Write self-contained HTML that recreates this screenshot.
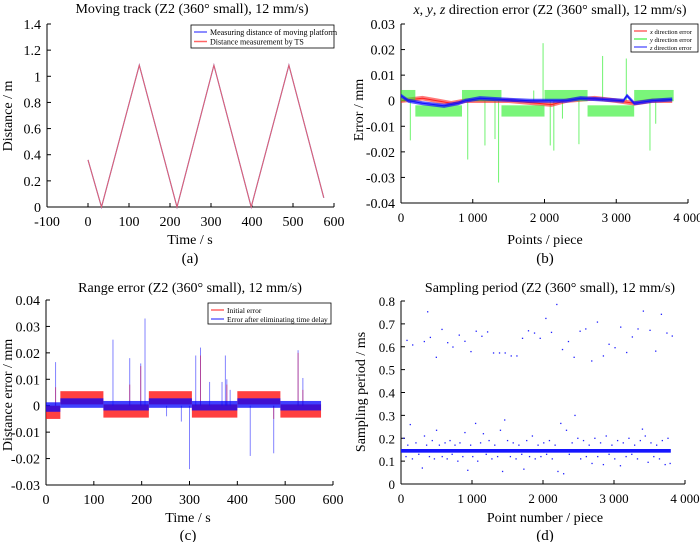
<!DOCTYPE html>
<html><head><meta charset="utf-8"><style>
html,body{margin:0;padding:0;background:#fff;}
svg{display:block;font-family:"Liberation Serif",serif;}
</style></head><body>
<svg id="fig" width="700" height="542" viewBox="0 0 700 542" xmlns="http://www.w3.org/2000/svg"></svg>
<script>
// ---------- Panel (a) data ----------
const aTimes = [0, 33, 125, 217, 307, 398, 490, 575];
const aPlatform = [0.36, 0, 1.085, 0, 1.085, 0, 1.085, 0.07];
const aTS = [0.36, 0, 1.085, 0, 1.085, 0, 1.085, 0.07];
const aXTicks = [-100, 0, 100, 200, 300, 400, 500, 600];
const aYTicks = [0, 0.2, 0.4, 0.6, 0.8, 1, 1.2, 1.4];

// ---------- Panel (b) data ----------
const bXTicks = [0, 1000, 2000, 3000, 4000];
const bXTickLabels = ["0", "1 000", "2 000", "3 000", "4 000"];
const bYTicks = [-0.04, -0.03, -0.02, -0.01, 0, 0.01, 0.02, 0.03];
const bGreenStart = [0, 200, 850, 1400, 2000, 2600, 3250];
const bGreenEnd = [200, 850, 1400, 2000, 2600, 3250, 3800];
const bGreenLevel = [0.002, -0.004, 0.002, -0.004, 0.002, -0.004, 0.002];
const bGreenHalf = 0.0022;
const bGreenSpikeX = [130, 930, 1170, 1310, 1360, 1850, 1980, 2080, 2130, 2250, 2480, 2810, 3140, 3470, 3550];
const bGreenSpikeY = [-0.0155, -0.023, -0.0175, -0.015, -0.032, 0.004, 0.0225, -0.0175, -0.0195, -0.007, -0.017, 0.0175, 0.0165, -0.0195, -0.009];
const bRedX = [0, 300, 500, 700, 900, 1500, 1900, 2100, 2300, 2700, 3000, 3250, 3500, 3780];
const bRedY = [0, 0.001, 0, -0.001, 0, 0, -0.001, -0.0015, 0, 0.001, 0, -0.001, 0, 0];
const bRedHalf = 0.0009;
const bBlueX = [0, 100, 300, 600, 800, 900, 1100, 1400, 1800, 2000, 2300, 2500, 2800, 3100, 3150, 3250, 3500, 3780];
const bBlueY = [0.002, 0, -0.001, -0.002, -0.001, 0, 0.001, 0.0005, 0, 0, 0, 0.001, 0.0005, 0, 0.002, -0.001, 0, 0.0005];
const bBlueHalf = 0.0008;

// ---------- Panel (c) data ----------
const cXTicks = [0, 100, 200, 300, 400, 500, 600];
const cYTicks = [-0.03, -0.02, -0.01, 0, 0.01, 0.02, 0.03, 0.04];
const cRedStart = [0, 30, 120, 215, 305, 400, 490];
const cRedEnd = [30, 120, 215, 305, 400, 490, 575];
const cRedLevel = [-0.0025, 0.003, -0.002, 0.003, -0.002, 0.003, -0.002];
const cRedHalf = 0.0025;
const cBlueStart = [0, 30, 120, 215, 305, 400, 490];
const cBlueEnd = [30, 120, 215, 305, 400, 490, 575];
const cBlueLevel = [-0.0005, 0.001, 0, 0.001, 0, 0.001, 0];
const cBlueHalf = 0.0018;
const cBlueSpikeX = [20, 140, 175, 198, 207, 252, 283, 300, 313, 323, 342, 368, 375, 378, 385, 427, 476, 527, 537];
const cBlueSpikeY = [0.0165, 0.025, 0.018, 0.016, 0.033, -0.004, -0.006, -0.024, 0.019, 0.022, 0.009, 0.009, 0.019, 0.01, 0.006, -0.019, -0.018, 0.021, 0.0105];
const cRedSpikeX = [20, 175, 198, 323, 378, 476, 527, 537];
const cRedSpikeY = [0.007, 0.008, 0.015, 0.019, 0.008, -0.005, 0.02, 0.006];

// ---------- Panel (d) data ----------
const dXTicks = [0, 1000, 2000, 3000, 4000];
const dXTickLabels = ["0", "1 000", "2 000", "3 000", "4 000"];
const dYTicks = [0, 0.1, 0.2, 0.3, 0.4, 0.5, 0.6, 0.7, 0.8];
const dCoreStart = 0, dCoreEnd = 3800, dCoreLevel = 0.145, dCoreHalf = 0.008;
const dHighX = [84, 164, 375, 328, 413, 497, 577, 657, 731, 820, 900, 985, 1059, 1139, 1219, 1303, 1387, 1467, 1552, 1632, 1711, 1795, 1880, 1960, 2040, 2119, 2194, 2274, 2358, 2438, 2522, 2602, 2686, 2766, 2850, 2930, 3014, 3094, 3178, 3258, 3338, 3413, 3507, 3587, 3667, 3745, 3820];
const dHighY = [0.628, 0.608, 0.753, 0.623, 0.641, 0.554, 0.676, 0.618, 0.599, 0.651, 0.624, 0.579, 0.668, 0.646, 0.665, 0.573, 0.573, 0.573, 0.56, 0.56, 0.637, 0.67, 0.66, 0.637, 0.724, 0.663, 0.785, 0.588, 0.623, 0.554, 0.668, 0.678, 0.538, 0.708, 0.56, 0.611, 0.596, 0.686, 0.575, 0.643, 0.678, 0.756, 0.672, 0.581, 0.742, 0.66, 0.647];
const dLowX = [40, 70, 95, 130, 160, 210, 250, 300, 330, 360, 400, 440, 470, 500, 540, 580, 620, 650, 690, 720, 760, 800, 830, 870, 900, 940, 980, 1010, 1050, 1080, 1120, 1160, 1200, 1240, 1280, 1320, 1360, 1400, 1430, 1460, 1500, 1540, 1580, 1620, 1660, 1700, 1730, 1770, 1810, 1850, 1890, 1930, 1970, 2010, 2050, 2090, 2130, 2170, 2210, 2250, 2290, 2330, 2370, 2410, 2450, 2490, 2530, 2570, 2610, 2650, 2690, 2730, 2770, 2810, 2850, 2890, 2930, 2970, 3010, 3050, 3090, 3130, 3170, 3210, 3250, 3290, 3330, 3370, 3400, 3440, 3480, 3520, 3560, 3600, 3640, 3680, 3720, 3760, 3790];
const dLowY = [0.2, 0.12, 0.17, 0.26, 0.11, 0.18, 0.13, 0.07, 0.21, 0.17, 0.12, 0.19, 0.11, 0.235, 0.17, 0.12, 0.18, 0.11, 0.19, 0.13, 0.17, 0.1, 0.18, 0.12, 0.225, 0.06, 0.17, 0.12, 0.265, 0.1, 0.18, 0.22, 0.13, 0.19, 0.11, 0.17, 0.12, 0.235, 0.055, 0.28, 0.19, 0.12, 0.18, 0.11, 0.17, 0.13, 0.065, 0.19, 0.12, 0.21, 0.11, 0.17, 0.12, 0.18, 0.13, 0.19, 0.11, 0.17, 0.055, 0.265, 0.045, 0.235, 0.13, 0.18, 0.3, 0.2, 0.11, 0.19, 0.12, 0.17, 0.09, 0.2, 0.12, 0.18, 0.085, 0.21, 0.13, 0.17, 0.11, 0.19, 0.08, 0.18, 0.12, 0.2, 0.13, 0.17, 0.11, 0.19, 0.24, 0.21, 0.095, 0.18, 0.12, 0.17, 0.11, 0.19, 0.085, 0.2, 0.09];

const NS = "http://www.w3.org/2000/svg";
const svg = document.getElementById("fig");
function mk(tag, attrs, parent) {
  const e = document.createElementNS(NS, tag);
  for (const k in attrs) e.setAttribute(k, attrs[k]);
  (parent || svg).appendChild(e);
  return e;
}
function txt(s, attrs, parent) { const t = mk("text", attrs, parent); t.textContent = s; return t; }
function lin(d0, d1, r0, r1) { return v => r0 + (v - d0) * (r1 - r0) / (d1 - d0); }

function axes(g, X, Y, xt, xl, yt, yl, L, R, T, B, fs, xfs) {
  const ax = mk("g", {}, g);
  
  
  mk("line", {x1: L, y1: B, x2: R, y2: B, stroke: "#000", "stroke-width": 1}, ax);
  mk("line", {x1: L, y1: B, x2: L, y2: T, stroke: "#000", "stroke-width": 1}, ax);
  xt.forEach((v, i) => {
    const x = X(v);
    mk("line", {x1: x, y1: B, x2: x, y2: B - 4, stroke: "#000"}, ax);
    const t = txt(xl[i], {x: x, y: B + 19, "text-anchor": "middle", "font-size": xfs || fs}, ax);
    
    
  });
  yt.forEach((v, i) => {
    const y = Y(v);
    mk("line", {x1: L, y1: y, x2: L + 4, y2: y, stroke: "#000"}, ax);
    const t = txt(yl[i], {x: L - 6, y: y + 5, "text-anchor": "end", "font-size": fs}, ax);
    
    
  });
}
function labels(g, title, titleX, titleY, xlab, xlx, xly, ylab, ylx, yly, cap, capY) {
  const t = txt("", {x: titleX, y: titleY, "text-anchor": "middle", "font-size": 14}, g);
  t.innerHTML = title;
  
  
  const xl = txt(xlab, {x: xlx, y: xly, "text-anchor": "middle", "font-size": 14}, g);
  
  
  const yl = txt(ylab, {x: 0, y: 0, "text-anchor": "middle", "font-size": 14, transform: `translate(${ylx},${yly}) rotate(-90)`}, g);
  
  
  const c = txt(cap, {x: xlx, y: capY, "text-anchor": "middle", "font-size": 15}, g);
  
  
}
function legend(g, x, y, w, h, items, fs) {
  const lg = mk("g", {}, g);
  
  
  mk("rect", {x: x, y: y, width: w, height: h, fill: "#fff", stroke: "#000", "stroke-width": 0.8}, lg);
  items.forEach((it, i) => {
    const yy = y + 7 + i * (fs + 1.5);
    const e = mk("g", {}, lg);
    
    
    mk("line", {x1: x + 3, y1: yy, x2: x + 16, y2: yy, stroke: it.c, "stroke-width": 1.5, opacity: 0.6}, e);
    const t = txt("", {x: x + 19, y: yy + 3, "font-size": fs}, e);
    t.innerHTML = it.t;
  });
}
function pts(xs, ys, X, Y) { return xs.map((v, i) => X(v).toFixed(1) + "," + Y(ys[i]).toFixed(1)).join(" "); }
function bandPoly(g, xs, ys, hw, X, Y, color, op, name) {
  const up = xs.map((v, i) => X(v).toFixed(1) + "," + Y(ys[i] + hw).toFixed(1));
  const dn = xs.map((v, i) => X(v).toFixed(1) + "," + Y(ys[i] - hw).toFixed(1)).reverse();
  const p = mk("polygon", {points: up.concat(dn).join(" "), fill: color, opacity: op}, g);
  
  
  const l = mk("polyline", {points: pts(xs, ys, X, Y), fill: "none", stroke: color, "stroke-width": 1}, g);
  
  
}
function segBands(g, s, e, lv, hw, X, Y, color, op, name) {
  s.forEach((v, i) => {
    const r = mk("rect", {x: X(v), y: Y(lv[i] + hw), width: X(e[i]) - X(v), height: Y(lv[i] - hw) - Y(lv[i] + hw), fill: color, opacity: op}, g);
    
    
  });
}
function spikes(g, xs, ys, base, X, Y, color, op, name) {
  xs.forEach((v, i) => {
    const l = mk("line", {x1: X(v), y1: Y(base), x2: X(v), y2: Y(ys[i]), stroke: color, "stroke-width": 1, opacity: op}, g);
    
    
  });
}

// ===== Panel (a) =====
(function () {
  const g = mk("g", {});
  
  
  const L = 47, R = 334, T = 24, B = 207;
  const X = lin(-100, 600, L, R), Y = lin(0, 1.4, B, T);
  axes(g, X, Y, aXTicks, aXTicks.map(String), aYTicks, aYTicks.map(String), L, R, T, B, 14);
  const p1 = mk("polyline", {points: pts(aTimes, aPlatform, X, Y), fill: "none", stroke: "#8080e0", "stroke-width": 1.2}, g);
  
  
  const p2 = mk("polyline", {points: pts(aTimes, aTS, X, Y), fill: "none", stroke: "#e06070", "stroke-width": 1}, g);
  
  
  legend(g, 191, 25, 143, 23, [{c: "#0000ff", t: "Measuring distance of moving platform"}, {c: "#ff0000", t: "Distance measurement by TS"}], 8);
  labels(g, "Moving track (Z2 (360° small), 12 mm/s)", 192, 13, "Time / s", 190, 244, "Distance / m", 12, 116, "(a)", 263);
})();

// ===== Panel (b) =====
(function () {
  const g = mk("g", {});
  
  
  const L = 401, R = 688, T = 24, B = 203;
  const X = lin(0, 4000, L, R), Y = lin(-0.04, 0.03, B, T);
  axes(g, X, Y, bXTicks, bXTickLabels, bYTicks, bYTicks.map(String), L, R, T, B, 14, 13);
  spikes(g, bGreenSpikeX, bGreenSpikeY, 0, X, Y, "#33ee33", 0.7, 'y-error-spike');
  bandPoly(g, bRedX, bRedY, bRedHalf, X, Y, "#ff2020", 0.6, 'x-error-series');
  segBands(g, bGreenStart, bGreenEnd, bGreenLevel, bGreenHalf, X, Y, "#22ee22", 0.6, 'y-error-series');
  bandPoly(g, bBlueX, bBlueY, bBlueHalf, X, Y, "#1010ff", 0.7, 'z-error-series');
  legend(g, 631, 24, 67, 28, [{c: "#ff0000", t: "<tspan font-style='italic'>x</tspan> direction error"}, {c: "#00ee00", t: "<tspan font-style='italic'>y</tspan> direction error"}, {c: "#0000ff", t: "<tspan font-style='italic'>z</tspan> direction error"}], 6.5);
  labels(g, "<tspan font-style='italic'>x</tspan>, <tspan font-style='italic'>y</tspan>, <tspan font-style='italic'>z</tspan> direction error (Z2 (360° small), 12 mm/s)", 550, 14, "Points / piece", 545, 244, "Error / mm", 363, 110, "(b)", 263);
})();

// ===== Panel (c) =====
(function () {
  const g = mk("g", {});
  
  
  const L = 46, R = 333, T = 300, B = 485;
  const X = lin(0, 600, L, R), Y = lin(-0.03, 0.04, B, T);
  axes(g, X, Y, cXTicks, cXTicks.map(String), cYTicks, cYTicks.map(String), L, R, T, B, 14);
  segBands(g, cRedStart, cRedEnd, cRedLevel, cRedHalf, X, Y, "#ff1010", 0.8, 'initial-error-series');
  spikes(g, cBlueSpikeX, cBlueSpikeY, 0, X, Y, "#3030ff", 0.6, 'delay-corrected-spike');
  spikes(g, cRedSpikeX, cRedSpikeY, 0, X, Y, "#d02060", 0.6, 'initial-error-spike');
  segBands(g, cBlueStart, cBlueEnd, cBlueLevel, cBlueHalf, X, Y, "#0000ff", 0.75, 'delay-corrected-series');
  legend(g, 208, 303, 123, 21, [{c: "#ff0000", t: "Initial error"}, {c: "#0000ff", t: "Error after eliminating time delay"}], 7.5);
  labels(g, "Range error (Z2 (360° small), 12 mm/s)", 190, 292, "Time / s", 188, 522, "Distance error / mm", 12, 395, "(c)", 540);
})();

// ===== Panel (d) =====
(function () {
  const g = mk("g", {});
  
  
  const L = 401, R = 685, T = 301, B = 484;
  const X = lin(0, 4000, L, R), Y = lin(0, 0.8, B, T);
  axes(g, X, Y, dXTicks, dXTickLabels, dYTicks, dYTicks.map(String), L, R, T, B, 13, 13);
  dHighX.forEach((v, i) => {
    const c = mk("rect", {x: X(v) - 0.6, y: Y(dHighY[i]) - 0.6, width: 1.3, height: 1.3, fill: "#2020ff"}, g);
    
    
  });
  dLowX.forEach((v, i) => {
    const c = mk("rect", {x: X(v) - 0.6, y: Y(dLowY[i]) - 0.6, width: 1.3, height: 1.3, fill: "#2020ff"}, g);
    
    
  });
  const core = mk("rect", {x: X(dCoreStart), y: Y(dCoreLevel + dCoreHalf), width: X(dCoreEnd) - X(dCoreStart), height: Y(dCoreLevel - dCoreHalf) - Y(dCoreLevel + dCoreHalf), fill: "#1515ff"}, g);
  
  
  labels(g, "Sampling period (Z2 (360° small), 12 mm/s)", 550, 292, "Point number / piece", 545, 522, "Sampling period / ms", 365, 392, "(d)", 540);
})();
</script>
</body></html>
